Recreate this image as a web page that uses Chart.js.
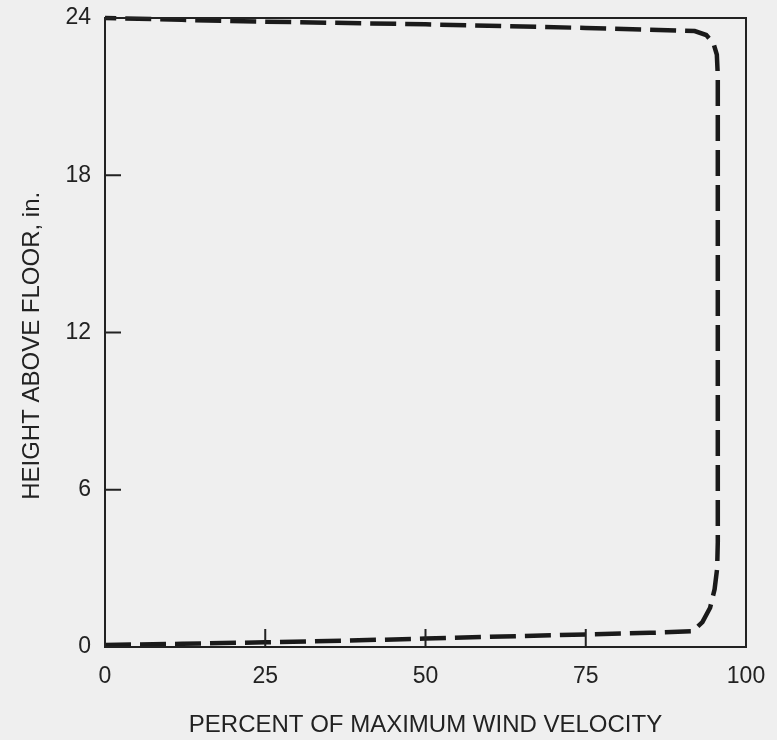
<!DOCTYPE html>
<html>
<head>
<meta charset="utf-8">
<script src="https://cdn.jsdelivr.net/npm/chart.js@4.4.1/dist/chart.umd.min.js"></script>
<style>
  html, body { margin: 0; padding: 0; background: #efefef; }
  #wrap { width: 777px; height: 740px; }
</style>
</head>
<body>
<div id="wrap"><canvas id="chart" width="777" height="740"></canvas></div>
<script>
// velocity profile (bottom run, right side, top run)
const velocityPct = [0, 12, 25, 37, 50, 62, 75, 85, 91.7,
    93.2, 94.4, 95.1, 95.5, 95.6,
    95.6, 95.6, 95.6, 95.6,
    95.45, 94.9, 93.8, 92,
    75, 50, 25, 12, 0];
const heightIn = [0.08, 0.12, 0.18, 0.24, 0.32, 0.4, 0.48, 0.54, 0.6,
    0.95, 1.5, 2.2, 3.0, 4.0,
    6, 12, 18, 21.8,
    22.6, 23.05, 23.35, 23.5,
    23.62, 23.76, 23.86, 23.93, 24];

const xTicks = [0, 25, 50, 75, 100];
const yTicks = [0, 6, 12, 18, 24];
const xTitle = "PERCENT OF MAXIMUM WIND VELOCITY";
const yTitle = "HEIGHT ABOVE FLOOR, in.\u00a0\u00a0\u00a0\u00a0";

const ink = "#222222";
const fontFamily = "'Liberation Sans', Arial, sans-serif";

// frame around the plot plus the short inward tick marks
const framePlugin = {
    id: "frame",
    afterDatasetsDraw(chart) {
        const { ctx, chartArea } = chart;
        const xs = chart.scales.x;
        const ys = chart.scales.y;
        ctx.save();
        ctx.strokeStyle = ink;
        ctx.lineWidth = 2;
        ctx.strokeRect(chartArea.left, chartArea.top,
            chartArea.right - chartArea.left, chartArea.bottom - chartArea.top);
        ctx.beginPath();
        yTicks.slice(1, -1).forEach((v) => {
            const py = ys.getPixelForValue(v);
            ctx.moveTo(chartArea.left, py);
            ctx.lineTo(chartArea.left + 16, py);
        });
        xTicks.slice(1, -1).forEach((v) => {
            const px = xs.getPixelForValue(v);
            ctx.moveTo(px, chartArea.bottom);
            ctx.lineTo(px, chartArea.bottom - 18);
        });
        ctx.stroke();
        ctx.restore();
    },
};

const points = velocityPct.map((v, i) => ({ x: v, y: heightIn[i] }));

new Chart(document.getElementById("chart"), {
    type: "scatter",
    data: {
        datasets: [{
            data: points,
            showLine: true,
            borderColor: "#1a1a1a",
            borderWidth: 4.5,
            borderDash: [26, 9],
            pointRadius: 0,
            tension: 0,
            clip: false,
        }],
    },
    options: {
        responsive: false,
        animation: false,
        events: [],
        layout: { padding: { top: 18, right: 31, bottom: 0, left: 0 } },
        plugins: {
            legend: { display: false },
            tooltip: { enabled: false },
        },
        scales: {
            x: {
                type: "linear",
                min: 0,
                max: 100,
                afterBuildTicks: (axis) => { axis.ticks = xTicks.map((v) => ({ value: v })); },
                afterFit: (axis) => {
                    axis.height = 93;
                    axis.paddingLeft = 0;
                    axis.paddingRight = 0;
                },
                grid: { display: false, drawTicks: false },
                border: { display: false },
                ticks: {
                    color: ink,
                    padding: 16,
                    font: { family: fontFamily, size: 23 },
                },
                title: {
                    display: true,
                    text: xTitle,
                    color: ink,
                    font: { family: fontFamily, size: 24 },
                    padding: { top: 0, bottom: 0 },
                },
            },
            y: {
                type: "linear",
                min: 0,
                max: 24,
                afterBuildTicks: (axis) => { axis.ticks = yTicks.map((v) => ({ value: v })); },
                afterFit: (axis) => {
                    axis.width = 105;
                    axis.paddingTop = 0;
                    axis.paddingBottom = 0;
                },
                grid: { display: false, drawTicks: false },
                border: { display: false },
                ticks: {
                    color: ink,
                    padding: 14,
                    font: { family: fontFamily, size: 23 },
                },
                title: {
                    display: true,
                    text: yTitle,
                    color: ink,
                    font: { family: fontFamily, size: 24 },
                    padding: { top: 18, bottom: 0 },
                },
            },
        },
    },
    plugins: [framePlugin],
});
</script>
</body>
</html>
